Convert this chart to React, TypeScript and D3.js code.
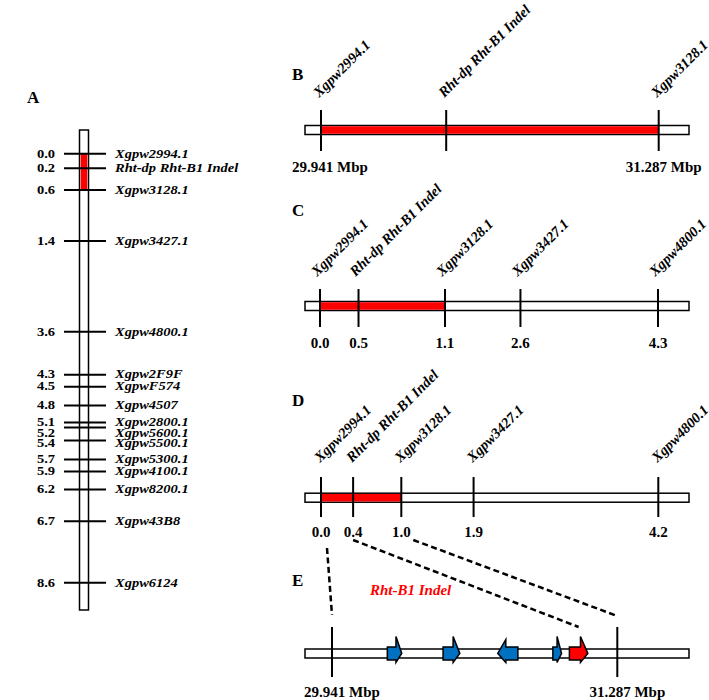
import React from "react";
import * as d3 from "d3";

// ---------- DATA ----------
// Panel A: genetic map
const aMarkers = ["Xgpw2994.1", "Rht-dp Rht-B1 Indel", "Xgpw3128.1", "Xgpw3427.1", "Xgpw4800.1", "Xgpw2F9F", "XgpwF574", "Xgpw4507", "Xgpw2800.1", "Xgpw5600.1", "Xgpw5500.1", "Xgpw5300.1", "Xgpw4100.1", "Xgpw8200.1", "Xgpw43B8", "Xgpw6124"];
const aDistLabels = ["0.0", "0.2", "0.6", "1.4", "3.6", "4.3", "4.5", "4.8", "5.1", "5.2", "5.4", "5.7", "5.9", "6.2", "6.7", "8.6"];
const aDrawPos = [0, 0.29, 0.73, 1.75, 3.57, 4.43, 4.67, 5.05, 5.39, 5.49, 5.75, 6.13, 6.37, 6.73, 7.37, 8.6];
const aRedRange = [0, 2]; // marker indices bounding red segment

// Panel B: physical map (Mbp)
const bMarkers = ["Xgpw2994.1", "Rht-dp Rht-B1 Indel", "Xgpw3128.1"];
const bPhys = [29.941, 30.44, 31.287];
const bEndLabels = ["29.941 Mbp", "31.287 Mbp"];

// Panel C: genetic map
const cMarkers = ["Xgpw2994.1", "Rht-dp Rht-B1 Indel", "Xgpw3128.1", "Xgpw3427.1", "Xgpw4800.1"];
const cDistLabels = ["0.0", "0.5", "1.1", "2.6", "4.3"];
const cDrawPos = [0, 0.49, 1.59, 2.55, 4.3];

// Panel D: genetic map
const dMarkers = ["Xgpw2994.1", "Rht-dp Rht-B1 Indel", "Xgpw3128.1", "Xgpw3427.1", "Xgpw4800.1"];
const dDist = [0.0, 0.4, 1.0, 1.9, 4.2];

// Panel E: genes (Mbp)
const eRange = [29.941, 31.287];
const eEndLabels = ["29.941 Mbp", "31.287 Mbp"];
const geneStart = [30.202, 30.465, 30.723, 30.983, 31.061];
const geneEnd = [30.27, 30.544, 30.818, 31.024, 31.148];
const geneStrand = [1, 1, -1, 1, 1];
const geneTarget = [false, false, false, false, true];
const eTargetLabel = "Rht-B1 Indel";

// ---------- STYLE ----------
const FONT = "'Liberation Serif', 'Times New Roman', serif";
const RED = "#ff0000";
const BLUE = "#0070c0";

function RotLabel({ x, y, text }: { x: number; y: number; text: string }) {
  return (
    <text
      transform={`translate(${x},${y}) rotate(-45)`}
      fontFamily={FONT}
      fontWeight="bold"
      fontStyle="italic"
      fontSize={14.5}
    >
      {text}
    </text>
  );
}

function HBar({ y, red }: { y: number; red?: [number, number] }) {
  const x0 = 305, x1 = 689, h = 9;
  return (
    <g>
      <rect x={x0} y={y - h / 2} width={x1 - x0} height={h} fill="#fff" stroke="#000" strokeWidth={1.5} />
      {red && <rect x={red[0]} y={y - h / 2 + 0.75} width={red[1] - red[0]} height={h - 1.5} fill={RED} />}
    </g>
  );
}

export default function App() {
  // Panel A
  const aY = d3.scaleLinear().domain([0, 8.6]).range([153.7, 582.7]);
  const aLineY = aDrawPos.map((p) => aY(p));
  const aLabY: number[] = [];
  aLineY.forEach((y, i) => {
    aLabY.push(i > 0 && y - aLabY[i - 1] < 10.5 ? aLabY[i - 1] + 10.5 : y);
  });

  // Panels B-E x scales
  const bX = d3.scaleLinear().domain([bPhys[0], bPhys[bPhys.length - 1]]).range([321, 658.7]);
  const cX = d3.scaleLinear().domain([0, 4.3]).range([320, 658]);
  const dX = d3.scaleLinear().domain([0, 4.2]).range([321, 658.3]);
  const eX = d3.scaleLinear().domain(eRange).range([332, 617.3]);

  const bY = 130, cY = 306, dY = 497.7, eY = 653.5;

  const textProps = { fontFamily: FONT, fontWeight: "bold" as const, fontSize: 15 };
  const aTextProps = { fontFamily: FONT, fontWeight: "bold" as const, fontSize: 14.5 };

  // genes
  const genes = geneStart.map((s, i) => {
    const xa = eX(s), xb = eX(geneEnd[i]);
    const w = xb - xa;
    const hl = Math.max(4.5, Math.min(9, w * 0.4));
    const bh = 6.5, top = 17, bot = 9;
    let pts: [number, number][];
    if (geneStrand[i] > 0) {
      const xh = xb - hl;
      pts = [[xa, eY - bh], [xh, eY - bh], [xh, eY - top], [xb, eY], [xh, eY + bot], [xh, eY + bh], [xa, eY + bh]];
    } else {
      const xh = xa + hl;
      pts = [[xb, eY - bh], [xh, eY - bh], [xh, eY - top + 3], [xa, eY], [xh, eY + bot], [xh, eY + bh], [xb, eY + bh]];
    }
    return { pts, color: geneTarget[i] ? RED : BLUE, mid: (xa + xb) / 2 };
  });
  const target = genes.find((g, i) => geneTarget[i])!;

  // connectors D -> E
  const connectors = [
    { x1: dX(dDist[0]) + 6, y1: 548, x2: eX(eRange[0]), y2: 615 },
    { x1: dX(dDist[1]), y1: 540, x2: target.mid, y2: 627 },
    { x1: dX(dDist[2]) + 12, y1: 540, x2: eX(eRange[1]), y2: 616 },
  ];

  return (
    <svg width={709} height={700} style={{ position: "absolute", left: 0, top: 0, background: "#fff" }}>
      <rect width={709} height={700} fill="#fff" />
      {/* panel letters */}
      <text x={27} y={103} fontFamily={FONT} fontWeight="bold" fontSize={17}>A</text>
      <text x={292} y={80} fontFamily={FONT} fontWeight="bold" fontSize={17}>B</text>
      <text x={292} y={216} fontFamily={FONT} fontWeight="bold" fontSize={17}>C</text>
      <text x={292} y={406} fontFamily={FONT} fontWeight="bold" fontSize={17}>D</text>
      <text x={292} y={586} fontFamily={FONT} fontWeight="bold" fontSize={17}>E</text>

      {/* Panel A */}
      <rect x={79.5} y={130} width={9} height={480} fill="#fff" stroke="#000" strokeWidth={1.5} />
      <rect x={80.75} y={aLineY[aRedRange[0]]} width={6.5} height={aLineY[aRedRange[1]] - aLineY[aRedRange[0]]} fill={RED} />
      {aMarkers.map((m, i) => (
        <g key={m}>
          <line x1={64} x2={106} y1={aLineY[i]} y2={aLineY[i]} stroke="#000" strokeWidth={2} />
          <text
            transform={`translate(55,${aLabY[i] + 3.8}) scale(1,0.8)`}
            textAnchor="end"
            {...aTextProps}
          >
            {aDistLabels[i]}
          </text>
          <text
            transform={`translate(115,${aLabY[i] + 3.8}) scale(1,0.8)`}
            fontStyle="italic"
            {...aTextProps}
          >
            {m}
          </text>
        </g>
      ))}

      {/* Panel B */}
      <HBar y={bY} red={[bX(bPhys[0]), bX(bPhys[2])]} />
      {bMarkers.map((m, i) => (
        <g key={m}>
          <line x1={bX(bPhys[i])} x2={bX(bPhys[i])} y1={110} y2={151} stroke="#000" strokeWidth={2} />
          <RotLabel x={bX(bPhys[i]) - 2} y={98} text={m} />
        </g>
      ))}
      <text x={bX(bPhys[0]) + 9} y={172} textAnchor="middle" {...textProps}>{bEndLabels[0]}</text>
      <text x={bX(bPhys[2]) + 5} y={172} textAnchor="middle" {...textProps}>{bEndLabels[1]}</text>

      {/* Panel C */}
      <HBar y={cY} red={[cX(cDrawPos[0]), cX(cDrawPos[2])]} />
      {cMarkers.map((m, i) => (
        <g key={m}>
          <line x1={cX(cDrawPos[i])} x2={cX(cDrawPos[i])} y1={289} y2={327} stroke="#000" strokeWidth={2} />
          <RotLabel x={cX(cDrawPos[i]) - 3} y={277} text={m} />
          <text x={cX(cDrawPos[i])} y={348} textAnchor="middle" {...textProps}>{cDistLabels[i]}</text>
        </g>
      ))}

      {/* Panel D */}
      <HBar y={dY} red={[dX(dDist[0]), dX(dDist[2])]} />
      {dMarkers.map((m, i) => (
        <g key={m}>
          <line x1={dX(dDist[i])} x2={dX(dDist[i])} y1={477} y2={517} stroke="#000" strokeWidth={2} />
          <RotLabel x={dX(dDist[i]) - 1} y={463} text={m} />
          <text x={dX(dDist[i])} y={537} textAnchor="middle" {...textProps}>{dDist[i].toFixed(1)}</text>
        </g>
      ))}

      {/* connectors */}
      {connectors.map((c, i) => (
        <line key={i} x1={c.x1} y1={c.y1} x2={c.x2} y2={c.y2} stroke="#000" strokeWidth={2.5} strokeDasharray="6,3.5" />
      ))}

      {/* Panel E */}
      <HBar y={eY} />
      {eRange.map((v, i) => (
        <g key={i}>
          <line x1={eX(v)} x2={eX(v)} y1={627} y2={677} stroke="#000" strokeWidth={2} />
          <text x={eX(v) + 10} y={697} textAnchor="middle" {...textProps}>{eEndLabels[i]}</text>
        </g>
      ))}
      {genes.map((g, i) => (
        <polygon key={i} points={g.pts.map((p) => p.join(",")).join(" ")} fill={g.color} stroke="#000" strokeWidth={1.5} strokeLinejoin="miter" />
      ))}
      <text x={370} y={595} fontFamily={FONT} fontWeight="bold" fontStyle="italic" fontSize={15} fill={RED}>{eTargetLabel}</text>
    </svg>
  );
}
